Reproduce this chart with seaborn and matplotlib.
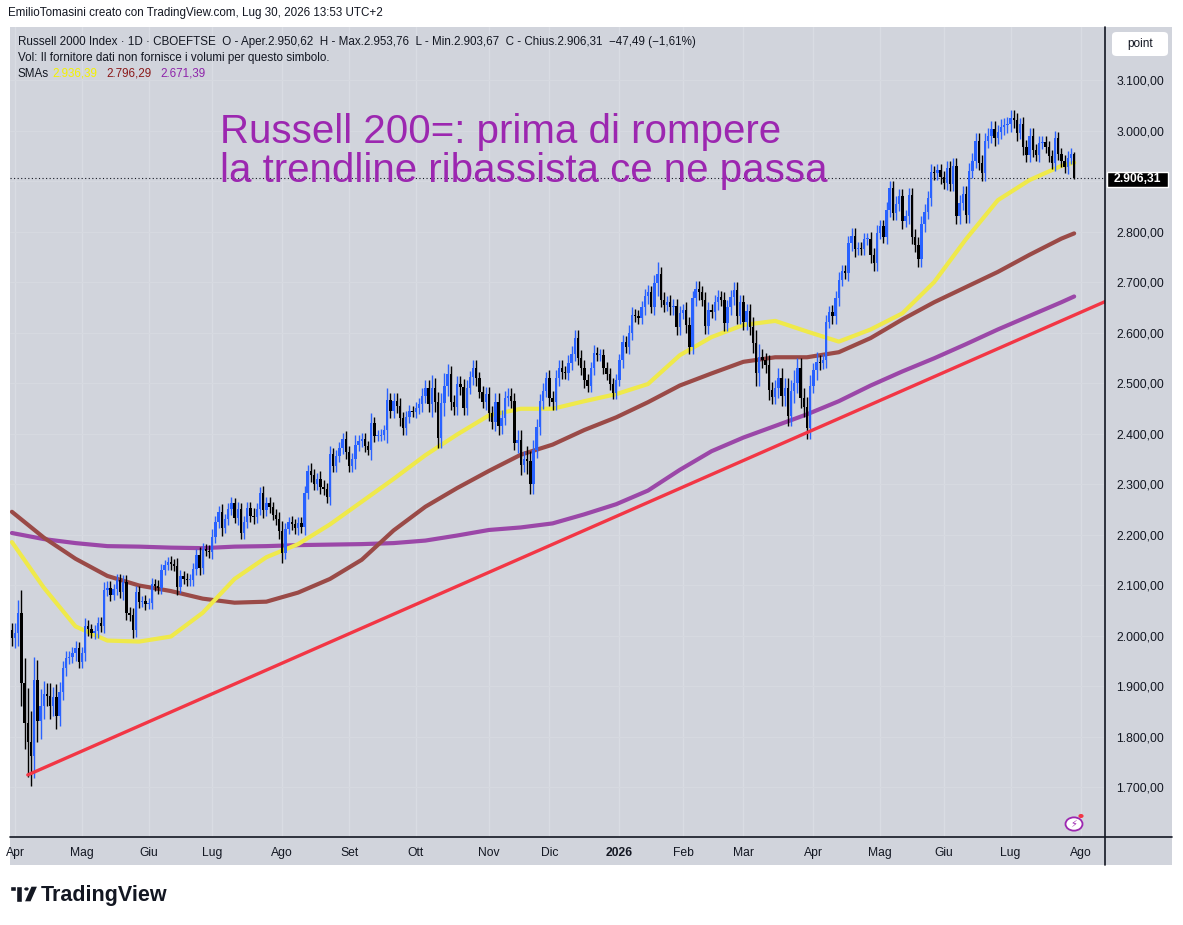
import numpy as np
import pandas as pd
import matplotlib
matplotlib.use('Agg')
import matplotlib.pyplot as plt
import matplotlib.patches as mpatches
from matplotlib.lines import Line2D
import seaborn as sns

# daily closes (Mar 31 2025 -> Jul 30 2026)
closes = [
    # Apr - mid Jun 2025
    1995, 2005, 2045, 1905, 1826, 1790, 1762, 1912, 1830, 1860,
    1885, 1880, 1860, 1878, 1840, 1888, 1935, 1955, 1958, 1965,
    1975, 1948, 1965, 2019, 2012, 2005, 2008, 2025, 2019, 2090,
    2095, 2080, 2092, 2110, 2086, 2105, 2045, 2040, 2010, 2086,
    2066, 2068, 2063, 2064, 2102, 2098, 2095, 2130, 2140, 2145,
    2142, 2138, 2096,
    # mid Jun - mid Sep 2025
    2118, 2112, 2110, 2110, 2132, 2160, 2134, 2171, 2168, 2166,
    2195, 2225, 2245, 2213, 2230, 2250, 2262, 2233, 2250, 2203,
    2225, 2253, 2237, 2235, 2250, 2282, 2248, 2262, 2254, 2238,
    2230, 2207, 2163, 2211, 2225, 2220, 2212, 2222, 2215, 2282,
    2326, 2318, 2301, 2310, 2295, 2290, 2274, 2360, 2336, 2356,
    2372, 2390, 2364, 2336, 2350, 2378, 2385, 2390, 2375, 2368,
    2420, 2395, 2396, 2398,
    # mid Sep - mid Dec 2025
    2406, 2466, 2445, 2465, 2455, 2430, 2410, 2433, 2445, 2442,
    2450, 2458, 2475, 2490, 2458, 2490, 2463, 2392, 2460, 2495,
    2518, 2462, 2452, 2498, 2492, 2451, 2490, 2512, 2530, 2510,
    2482, 2462, 2478, 2440, 2423, 2462, 2415, 2431, 2470, 2475,
    2465, 2382, 2387, 2338, 2350, 2345, 2300, 2367, 2413, 2464,
    2485, 2510, 2470, 2462, 2510, 2530, 2522, 2520, 2540, 2558,
    2590, 2550, 2530, 2505,
    # mid Dec 2025 - early Apr 2026
    2495, 2530, 2560, 2555, 2555, 2530, 2518, 2498, 2480, 2506,
    2545, 2581, 2572, 2600, 2635, 2633, 2628, 2650, 2672, 2680,
    2650, 2698, 2715, 2665, 2655, 2660, 2650, 2652, 2610, 2638,
    2645, 2615, 2572, 2668, 2687, 2680, 2665, 2613, 2645, 2640,
    2660, 2670, 2665, 2618, 2650, 2670, 2685, 2632, 2660, 2620,
    2642, 2610, 2580, 2520, 2552, 2545, 2535, 2487, 2473, 2490,
    2510, 2475, 2490, 2435, 2485, 2500, 2530, 2470, 2452, 2410,
    2495, 2525, 2541, 2540, 2545, 2620,
    # Apr - Jul 2026
    2640, 2632, 2668, 2704, 2722, 2718, 2777, 2791, 2765, 2768,
    2765, 2785, 2785, 2753, 2737, 2797, 2810, 2790, 2843, 2886,
    2837, 2855, 2870, 2820, 2830, 2872, 2790, 2774, 2745, 2815,
    2839, 2866, 2918, 2915, 2922, 2907, 2897, 2925, 2895, 2930,
    2830, 2857, 2875, 2832, 2920, 2940, 2980, 2936, 2915, 2980,
    2990, 3003, 2985, 2998, 3007, 3010, 3012, 3025, 3020, 2995,
    3012, 2967, 2952, 2990, 2962, 2952, 2975, 2978, 2967, 2950,
    2935, 2985, 2953, 2940, 2928, 2945, 2953.80, 2906.31,
]
first_open = 2010

# wick length beyond the body, per bar
wicks = [
    15, 20, 25, 45, 50, 70, 60, 45, 40, 35,
    25, 20, 25, 20, 25, 20, 15, 15, 12, 12,
    15, 12, 12, 15, 12, 10, 12, 12, 12, 15,
    12, 12, 10, 12, 12, 15, 15, 12, 15, 12,
    12, 10, 12, 10, 12, 10, 12, 12, 10, 10,
    12, 10, 15,
    12, 10, 12, 12, 12, 12, 15, 12, 10, 12,
    15, 12, 12, 15, 10, 12, 12, 10, 15, 12,
    12, 12, 12, 15, 12, 12, 15, 12, 12, 10,
    12, 15, 20, 12, 10, 12, 10, 12, 12, 15,
    12, 15, 12, 12, 15, 12, 12, 15, 12, 12,
    12, 12, 15, 12, 12, 20, 12, 12, 12, 10,
    20, 12, 10, 10,
    10, 25, 15, 15, 15, 15, 12, 12, 12, 10,
    12, 12, 15, 15, 15, 25, 20, 20, 20, 25,
    20, 15, 15, 15, 15, 15, 15, 12, 15, 15,
    12, 12, 15, 15, 15, 18, 18, 15, 15, 15,
    15, 15, 20, 20, 15, 25, 20, 20, 15, 15,
    15, 12, 15, 15, 15, 15, 15, 12, 15, 15,
    15, 15, 15, 15,
    12, 12, 15, 12, 12, 12, 12, 12, 12, 12,
    12, 15, 12, 15, 15, 12, 12, 12, 15, 15,
    12, 15, 25, 15, 15, 12, 15, 15, 15, 15,
    12, 15, 15, 15, 15, 15, 12, 15, 15, 12,
    15, 15, 12, 15, 15, 15, 15, 15, 15, 15,
    15, 15, 20, 25, 25, 15, 15, 20, 15, 15,
    20, 20, 20, 20, 20, 25, 20, 20, 20, 20,
    20, 15, 20, 15, 12, 15,
    12, 15, 15, 15, 12, 12, 15, 15, 15, 12,
    12, 12, 12, 15, 15, 15, 12, 12, 15, 15,
    15, 15, 15, 15, 12, 15, 15, 15, 15, 15,
    15, 15, 15, 12, 12, 12, 12, 15, 15, 15,
    15, 15, 15, 15, 15, 15, 15, 15, 15, 15,
    15, 15, 15, 12, 15, 15, 15, 15, 15, 15,
    12, 15, 15, 15, 15, 12, 15, 12, 12, 12,
    12, 15, 12, 12, 12, 15, 12, 3,
]

# moving averages sampled every 10 bars (+ last bar)
sma50 = [2185, 2095, 2018, 1990, 1988, 1998, 2045, 2112, 2155, 2181,
         2220, 2265, 2310, 2357, 2398, 2436, 2449, 2449, 2464, 2478,
         2498, 2555, 2591, 2615, 2623, 2602, 2582, 2606, 2638, 2700,
         2785, 2862, 2902, 2930, 2936.39]
sma100 = [2245, 2194, 2152, 2118, 2099, 2088, 2073, 2065, 2067, 2085,
          2112, 2150, 2208, 2255, 2292, 2326, 2358, 2378, 2407, 2432,
          2462, 2495, 2519, 2542, 2551, 2551, 2561, 2589, 2626, 2660,
          2690, 2720, 2754, 2786, 2796.29]
sma200 = [2203, 2191, 2183, 2177, 2176, 2174, 2173, 2176, 2177, 2179,
          2180, 2181, 2183, 2188, 2198, 2209, 2214, 2222, 2240, 2260,
          2287, 2328, 2365, 2392, 2415, 2438, 2464, 2495, 2523, 2549,
          2577, 2606, 2633, 2660, 2671.39]

# red trendline anchors (bar index, price)
trend_bars = [5, 344]
trend_prices = [1724, 2662]

holidays = ['2025-04-18', '2025-05-26', '2025-06-19', '2025-07-04', '2025-09-01',
            '2025-11-27', '2025-12-25', '2026-01-01', '2026-01-19', '2026-02-16',
            '2026-04-03', '2026-05-25', '2026-06-19', '2026-07-03']
month_names = ['2026', 'Feb', 'Mar', 'Apr', 'Mag', 'Giu',
               'Lug', 'Ago', 'Set', 'Ott', 'Nov', 'Dic']
y_ticks = list(range(1700, 3101, 100))

# ---------------------------------------------------------------------------
W, H = 1183, 925
BG = '#d1d4dc'
UP, DOWN = '#2962ff', '#000000'
C50, C100, C200 = '#efe94a', '#9a4a47', '#9b47a8'
TXT = '#131722'

sns.set_theme(style='white')
plt.rcParams['font.family'] = ['Liberation Sans', 'DejaVu Sans']


def fx(x):
    return x / W


def fy(y):
    return 1 - y / H


fig = plt.figure(figsize=(W / 100, H / 100), dpi=100, facecolor='white')

# grey chart panel (pane + scales)
fig.patches.append(mpatches.Rectangle((fx(10), fy(865)), fx(1172) - fx(10), fy(27) - fy(865),
                                      transform=fig.transFigure, facecolor=BG, edgecolor='none',
                                      zorder=-5))

ax = fig.add_axes([fx(10), fy(837), fx(1105) - fx(10), fy(27) - fy(837)])
ax.set_facecolor(BG)
ax.set_zorder(1)
for s in ax.spines.values():
    s.set_visible(False)

n = len(closes)
cal = pd.offsets.CustomBusinessDay(holidays=holidays)
dates = pd.date_range(end='2026-07-30', periods=n, freq=cal)
future = pd.date_range(start=dates[-1] + cal, periods=12, freq=cal)
all_dates = dates.append(future)

bars = np.arange(n)
c = np.array(closes, dtype=float)
o = np.concatenate([[first_open], c[:-1]])
w = np.array(wicks, dtype=float)
hi = np.maximum(o, c) + w
lo = np.minimum(o, c) - w
cols = np.where(c >= o, UP, DOWN)

# month grid + ticks
tick_pos, tick_lab = [], []
for i in range(1, len(all_dates)):
    if all_dates[i].month != all_dates[i - 1].month:
        tick_pos.append(i)
        tick_lab.append(month_names[(all_dates[i].month - 1)])
for p in tick_pos:
    ax.axvline(p, color='#d9dce3', lw=1, zorder=0)
for v in y_ticks:
    ax.axhline(v, color='#d6d9e0', lw=1, zorder=0)

# moving averages with seaborn
sample_bars = list(range(0, n, 10)) + [n - 1]
sma_df = pd.concat([
    pd.DataFrame({'bar': sample_bars, 'value': sma200, 'sma': 'SMA 200'}),
    pd.DataFrame({'bar': sample_bars, 'value': sma100, 'sma': 'SMA 100'}),
    pd.DataFrame({'bar': sample_bars, 'value': sma50, 'sma': 'SMA 50'}),
])
sns.lineplot(data=sma_df, x='bar', y='value', hue='sma', ax=ax, legend=False,
             palette={'SMA 50': C50, 'SMA 100': C100, 'SMA 200': C200},
             linewidth=3.0, zorder=2)

# candles
ax.vlines(bars, lo, hi, colors=cols, lw=1, zorder=3)
ax.bar(bars, np.maximum(np.abs(c - o), 1.5), bottom=np.minimum(o, c), width=0.75,
       color=cols, linewidth=0, zorder=3)

# trendline
ax.plot(trend_bars, trend_prices, color='#f23645', lw=2.4, zorder=4, solid_capstyle='round')

# last price line
ax.axhline(c[-1], color='#131722', lw=0.8, ls=(0, (1, 2.2)), zorder=1)

ax.set_xlim(-0.6, 343.7)
ax.set_ylim(1601, 3205)
ax.set_xlabel('')
ax.set_ylabel('')

ax.set_xticks(tick_pos)
ax.set_xticklabels(tick_lab)
for lab in ax.get_xticklabels():
    if lab.get_text() == '2026':
        lab.set_fontweight('bold')
ax.tick_params(axis='x', length=0, pad=7, labelsize=8.7, labelcolor=TXT)

# the 2.900 label sits under the last-price tag, so it is left blank
y_labels = [f'{v:,.2f}'.replace(',', 'X').replace('.', ',').replace('X', '.') for v in y_ticks]
y_labels = ['' if v == 2900 else s for v, s in zip(y_ticks, y_labels)]
ax.yaxis.tick_right()
ax.set_yticks(y_ticks)
ax.set_yticklabels(y_labels)
ax.tick_params(axis='y', length=0, pad=8, labelsize=8.7, labelcolor=TXT)

# scale borders
fig.lines.append(Line2D([fx(10), fx(1172)], [fy(837), fy(837)], transform=fig.transFigure,
                        color='#131722', lw=1.2, zorder=3))
fig.lines.append(Line2D([fx(1105), fx(1105)], [fy(27), fy(865)], transform=fig.transFigure,
                        color='#131722', lw=1.2, zorder=3))

# last price tag
fig.patches.append(mpatches.Rectangle((fx(1107), fy(187)), fx(1168) - fx(1107), fy(172) - fy(187),
                                      transform=fig.transFigure, facecolor='#000000', zorder=5))
fig.text(fx(1137.5), fy(179.5), '2.906,31', color='white', fontsize=8.7, fontweight='bold',
         ha='center', va='center', zorder=6)

# "point" button
fig.patches.append(mpatches.FancyBboxPatch((fx(1112), fy(56)), fx(1168) - fx(1112), fy(32) - fy(56),
                                           boxstyle='round,pad=0,rounding_size=0.004',
                                           transform=fig.transFigure, facecolor='white',
                                           edgecolor='none', zorder=5))
fig.text(fx(1140), fy(44), 'point', color=TXT, fontsize=8.5, ha='center', va='center', zorder=6)

# header texts
fig.text(fx(8), fy(13), 'EmilioTomasini creato con TradingView.com, Lug 30, 2026 13:53 UTC+2',
         color=TXT, fontsize=8.4, ha='left', va='center')
fig.text(fx(18), fy(42),
         'Russell 2000 Index · 1D · CBOEFTSE  O - Aper.2.950,62  H - Max.2.953,76  '
         'L - Min.2.903,67  C - Chius.2.906,31  −47,49 (−1,61%)',
         color=TXT, fontsize=8.4, ha='left', va='center', zorder=6)
fig.text(fx(18), fy(58), 'Vol: Il fornitore dati non fornisce i volumi per questo simbolo.',
         color=TXT, fontsize=8.4, ha='left', va='center', zorder=6)
fig.text(fx(18), fy(74), 'SMAs', color=TXT, fontsize=8.4, ha='left', va='center', zorder=6)
fig.text(fx(52), fy(74), '2.936,39', color='#f5f200', fontsize=8.4, ha='left', va='center', zorder=6)
fig.text(fx(106), fy(74), '2.796,29', color='#8b1a1a', fontsize=8.4, ha='left', va='center', zorder=6)
fig.text(fx(160), fy(74), '2.671,39', color='#8e24aa', fontsize=8.4, ha='left', va='center', zorder=6)

# annotation
fig.text(fx(220), fy(143), 'Russell 200=: prima di rompere', color='#9c27b0', fontsize=29,
         ha='left', va='baseline', zorder=6)
fig.text(fx(220), fy(182), 'la trendline ribassista ce ne passa', color='#9c27b0', fontsize=29,
         ha='left', va='baseline', zorder=6)

# small lightning badge
fig.patches.append(mpatches.Circle((fx(1074), fy(824)), 8.5 / W, transform=fig.transFigure,
                                   facecolor='white', edgecolor='#9c27b0', lw=1.3, zorder=5))
fig.text(fx(1074), fy(824), '⚡', color='#9c27b0', fontsize=7, ha='center', va='center',
         family=['DejaVu Sans'], zorder=6)
fig.patches.append(mpatches.Circle((fx(1081), fy(816)), 2.6 / W, transform=fig.transFigure,
                                   facecolor='#f23645', edgecolor='none', zorder=7))

# TradingView logo
fig.patches.append(mpatches.Rectangle((fx(10), fy(891)), 12 / W, 5 / H, transform=fig.transFigure,
                                      facecolor='#131722'))
fig.patches.append(mpatches.Rectangle((fx(16), fy(902)), 6 / W, 16 / H, transform=fig.transFigure,
                                      facecolor='#131722'))
fig.patches.append(mpatches.Circle((fx(26.5), fy(889)), 3 / W, transform=fig.transFigure,
                                   facecolor='#131722'))
fig.patches.append(mpatches.Polygon([(fx(31), fy(886)), (fx(38), fy(886)), (fx(31), fy(902)),
                                     (fx(24), fy(902))], closed=True, transform=fig.transFigure,
                                    facecolor='#131722'))
fig.text(fx(41), fy(901), 'TradingView', color='#131722', fontsize=15.5, fontweight='bold',
         ha='left', va='baseline')

fig.savefig('out.png', dpi=100, facecolor='white')
